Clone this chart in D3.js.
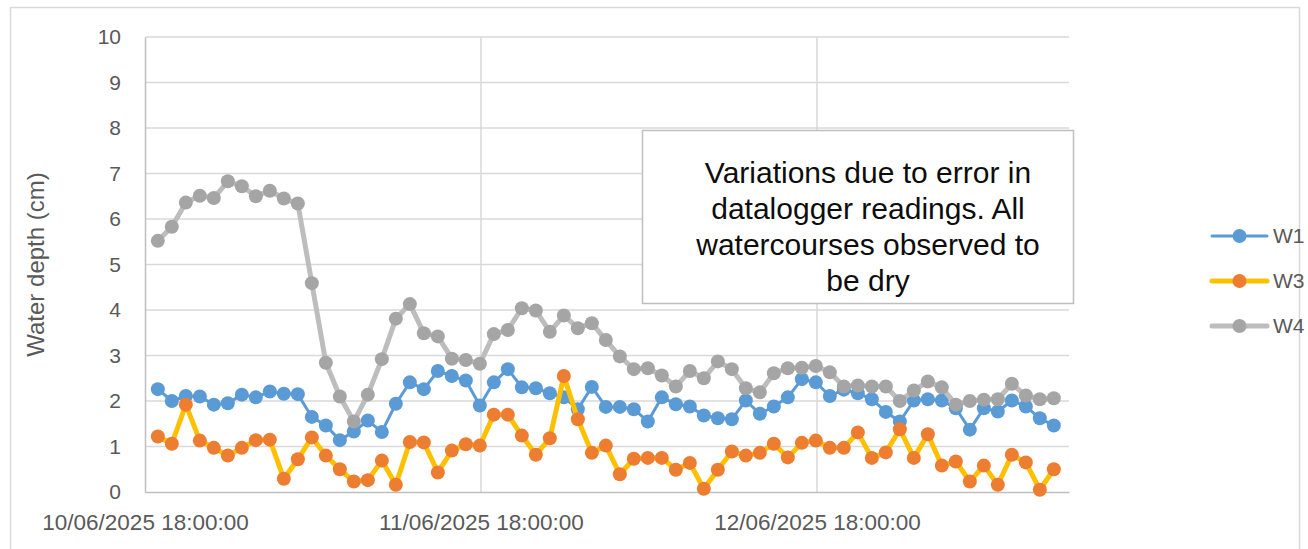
<!DOCTYPE html>
<html>
<head>
<meta charset="utf-8">
<script src="https://cdn.jsdelivr.net/npm/d3@7"></script>
<style>
body { margin: 0; background: #fff; }
text { font-family: "Liberation Sans", Arial, sans-serif; }
</style>
</head>
<body>
<svg id="chart" width="1308" height="549"></svg>
<script>
// readings every hour, first one logged at 18:55 on 10/06
var firstReading = "2025-06-10T18:55:00";

var w1Depth = [2.26, 2.00, 2.11, 2.10, 1.92, 1.95, 2.14, 2.08, 2.21, 2.16, 2.15, 1.65, 1.46, 1.14, 1.33, 1.57,
    1.32, 1.94, 2.41, 2.26, 2.66, 2.55, 2.45, 1.90, 2.41, 2.70, 2.30, 2.28, 2.17, 2.08, 1.82, 2.31,
    1.87, 1.87, 1.82, 1.55, 2.08, 1.93, 1.88, 1.68, 1.62, 1.60, 2.01, 1.72, 1.88, 2.08, 2.48, 2.41,
    2.11, 2.25, 2.17, 2.04, 1.76, 1.55, 2.01, 2.04, 2.01, 1.84, 1.37, 1.84, 1.77, 2.01, 1.88, 1.62, 1.46];

var w3Depth = [1.22, 1.06, 1.92, 1.13, 0.97, 0.80, 0.97, 1.14, 1.15, 0.29, 0.72, 1.20, 0.80, 0.50, 0.23, 0.26,
    0.69, 0.16, 1.10, 1.09, 0.43, 0.91, 1.05, 1.02, 1.70, 1.70, 1.24, 0.82, 1.18, 2.55, 1.60, 0.86,
    1.02, 0.39, 0.73, 0.75, 0.75, 0.49, 0.64, 0.07, 0.49, 0.89, 0.80, 0.86, 1.06, 0.76, 1.08, 1.13,
    0.97, 0.97, 1.31, 0.75, 0.87, 1.38, 0.75, 1.27, 0.58, 0.67, 0.23, 0.58, 0.16, 0.82, 0.65, 0.05, 0.50];

var w4Depth = [5.52, 5.83, 6.36, 6.51, 6.46, 6.83, 6.72, 6.50, 6.62, 6.45, 6.34, 4.59, 2.84, 2.10, 1.55, 2.14,
    2.92, 3.81, 4.13, 3.49, 3.42, 2.93, 2.90, 2.82, 3.47, 3.56, 4.04, 3.99, 3.52, 3.88, 3.60, 3.71,
    3.34, 2.98, 2.70, 2.72, 2.56, 2.32, 2.66, 2.50, 2.87, 2.70, 2.28, 2.19, 2.61, 2.72, 2.73, 2.77,
    2.63, 2.32, 2.34, 2.32, 2.32, 2.00, 2.23, 2.43, 2.30, 1.92, 2.00, 2.03, 2.04, 2.38, 2.12, 2.04, 2.06];

var seriesNames = ["W1", "W3", "W4"];
var yTicks = [0, 1, 2, 3, 4, 5, 6, 7, 8, 9, 10];
var xTickTimes = ["2025-06-10T18:00:00", "2025-06-11T18:00:00", "2025-06-12T18:00:00"];
var xDomain = ["2025-06-10T18:00:00", "2025-06-13T12:00:00"];
var noteLines = ["Variations due to error in", "datalogger readings. All", "watercourses observed to", "be dry"];

var styles = {
    W1: { line: "#5b9bd5", dot: "#5b9bd5", width: 3 },
    W3: { line: "#ffc000", dot: "#ed7d31", width: 5 },
    W4: { line: "#bdbdbd", dot: "#a5a5a5", width: 5 }
};

var parse = d3.isoParse;
var start = parse(firstReading);
var series = [w1Depth, w3Depth, w4Depth].map((vals, k) => ({
    name: seriesNames[k],
    points: vals.map((v, i) => ({ t: d3.timeHour.offset(start, i), v: v }))
}));

var svg = d3.select("#chart");
var plotLeft = 145, plotRight = 1069, plotTop = 37, plotBottom = 492;

var x = d3.scaleTime().domain(xDomain.map(parse)).range([plotLeft, plotRight]);
var y = d3.scaleLinear().domain([0, 10]).range([plotBottom, plotTop]);

svg.append("rect")
    .attr("width", 1308).attr("height", 549).attr("fill", "#fff");
svg.append("rect")
    .attr("x", 10.5).attr("y", 7.5).attr("width", 1289).attr("height", 560)
    .attr("fill", "none").attr("stroke", "#d9d9d9").attr("stroke-width", 1.5);

// gridlines
svg.append("g")
    .selectAll("line")
    .data(yTicks.filter(d => d > 0))
    .join("line")
    .attr("x1", plotLeft).attr("x2", plotRight)
    .attr("y1", d => y(d)).attr("y2", d => y(d))
    .attr("stroke", "#d9d9d9").attr("stroke-width", 1.5);

svg.append("g")
    .selectAll("line")
    .data(xTickTimes.slice(1).map(parse))
    .join("line")
    .attr("x1", d => x(d)).attr("x2", d => x(d))
    .attr("y1", plotTop).attr("y2", plotBottom)
    .attr("stroke", "#d9d9d9").attr("stroke-width", 1.5);

// axes
var yAxis = svg.append("g")
    .attr("transform", `translate(${plotLeft},0)`)
    .call(d3.axisLeft(y).tickValues(yTicks).tickSize(0).tickPadding(24));
yAxis.select(".domain").attr("stroke", "#bfbfbf").attr("stroke-width", 1.5);
yAxis.selectAll("text").attr("font-size", 21).attr("fill", "#595959")
    .style("font-family", "Liberation Sans, Arial, sans-serif");

var xAxis = svg.append("g")
    .attr("transform", `translate(0,${plotBottom})`)
    .call(d3.axisBottom(x)
        .tickValues(xTickTimes.map(parse))
        .tickFormat(d3.timeFormat("%d/%m/%Y %H:%M:%S"))
        .tickSize(0).tickPadding(22));
xAxis.select(".domain").attr("stroke", "#bfbfbf").attr("stroke-width", 1.5);
xAxis.selectAll("text").attr("font-size", 22.5).attr("fill", "#595959")
    .style("font-family", "Liberation Sans, Arial, sans-serif");

svg.append("text")
    .attr("transform", `translate(44,${(plotTop + plotBottom) / 2}) rotate(-90)`)
    .attr("text-anchor", "middle")
    .attr("font-size", 24)
    .attr("fill", "#595959")
    .text("Water depth (cm)");

// series
var line = d3.line().x(d => x(d.t)).y(d => y(d.v));

series.forEach(s => {
    var st = styles[s.name];
    var g = svg.append("g");
    g.append("path")
        .attr("d", line(s.points))
        .attr("fill", "none")
        .attr("stroke", st.line)
        .attr("stroke-width", st.width)
        .attr("stroke-linejoin", "round");
    g.selectAll("circle")
        .data(s.points)
        .join("circle")
        .attr("cx", d => x(d.t))
        .attr("cy", d => y(d.v))
        .attr("r", 7)
        .attr("fill", st.dot);
});

// note box
svg.append("rect")
    .attr("x", 642.5).attr("y", 130.5).attr("width", 431).attr("height", 173)
    .attr("fill", "#fff").attr("stroke", "#bfbfbf").attr("stroke-width", 1.5);

svg.append("g")
    .selectAll("text")
    .data(noteLines)
    .join("text")
    .attr("x", 868)
    .attr("y", (d, i) => 183 + i * 36)
    .attr("text-anchor", "middle")
    .attr("font-size", 30)
    .attr("fill", "#0d0d0d")
    .text(d => d);

// legend
var legend = svg.append("g")
    .selectAll("g")
    .data(seriesNames)
    .join("g")
    .attr("transform", (d, i) => `translate(1212,${236 + i * 45})`);

legend.append("line")
    .attr("x1", 0).attr("x2", 55)
    .attr("stroke", d => styles[d].line)
    .attr("stroke-width", d => styles[d].width)
    .attr("stroke-linecap", "round");
legend.append("circle")
    .attr("cx", 27.5).attr("r", 7)
    .attr("fill", d => styles[d].dot);
legend.append("text")
    .attr("x", 61).attr("dy", "0.35em")
    .attr("font-size", 21)
    .attr("fill", "#595959")
    .text(d => d);
</script>
</body>
</html>
